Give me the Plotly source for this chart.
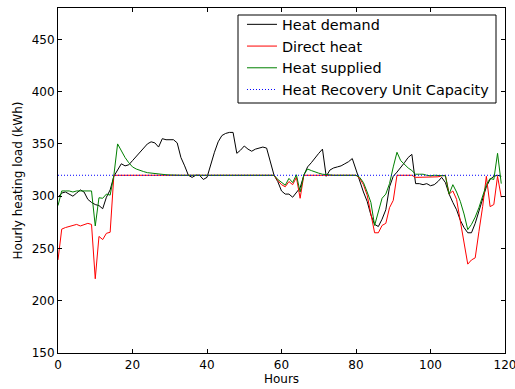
import plotly.graph_objects as go

hours = list(range(120))

heat_demand = [
    299, 303, 304, 302, 300, 303, 306, 304, 297, 294,
    292, 291, 288, 299, 306, 319, 325, 331, 329, 330,
    334, 338, 342, 347, 350, 352, 351, 347, 355, 354,
    354, 354, 351, 337, 329, 320, 318, 320, 320, 316,
    318, 331, 342, 352, 358, 360, 361, 361, 341, 344,
    348, 345, 343, 345, 346, 347, 346, 332, 320, 314,
    305, 302, 302, 299, 303, 308, 320, 328, 332, 337,
    341, 345, 319, 325, 327, 328, 329, 331, 333, 336,
    325, 314, 304, 295, 282, 273, 271, 278, 287, 309,
    319, 323, 327, 332, 337, 340, 312, 312, 311, 312,
    310, 311, 314, 318, 313, 302, 294, 287, 277, 270,
    265, 265, 274, 286, 298, 309, 316, 319, 320, 319,
]

direct_heat = [
    239, 268.5, 270, 271, 272, 273, 271.5, 273, 274, 273,
    221, 261.5, 258.5, 264.5, 265.5, 320, 320, 320, 320, 320,
    320, 320, 320, 320, 320, 320, 320, 320, 320, 320,
    320, 320, 320, 320, 320, 320, 320, 320, 320, 320,
    320, 320, 320, 320, 320, 320, 320, 320, 320, 320,
    320, 320, 320, 320, 320, 320, 320, 320, 320, 315,
    311, 309, 314, 311, 318, 298, 320, 320, 320, 320,
    320, 320, 320, 320, 320, 320, 320, 320, 320, 320,
    320, 317, 311, 301, 281, 265, 265, 272, 274, 289,
    296, 320, 320, 320, 320, 320, 318, 318, 318, 318,
    318, 318, 318.5, 319.5, 320, 302, 305, 297, 277, 255,
    235, 239, 241, 266, 290, 319, 290, 292, 319, 299,
]

heat_supplied = [
    291, 305, 305, 305, 304, 305, 305, 305, 305, 305,
    271.5, 298.5, 298, 302, 301, 320, 350, 343, 337, 332,
    328, 326, 324.5, 323.5, 322.5, 322, 321.5, 321, 320.7, 320.5,
    320.3, 320, 320, 320, 320, 320, 320, 320, 320, 320,
    320, 320, 320, 320, 320, 320, 320, 320, 320, 320,
    320, 320, 320, 320, 320, 320, 320, 320, 320, 316,
    313, 310.5, 317, 313, 320.5, 304, 320.5, 326, 324.5, 323,
    322, 321, 320.5, 320, 320, 320, 320, 320, 320, 320,
    320, 318, 313, 304, 294, 272, 286, 298, 302, 312,
    328, 342, 334, 330, 327, 324.5, 321, 321, 321, 320,
    319.5, 320, 320, 319.7, 319.5, 302, 311, 304, 295, 283,
    268, 273, 280, 289, 300, 311, 317, 316, 341, 312,
]

capacity_value = 320
capacity = [capacity_value] * len(hours)

x_ticks = [0, 20, 40, 60, 80, 100, 120]
y_ticks = [150, 200, 250, 300, 350, 400, 450]

FONT = "DejaVu Sans"

fig = go.Figure()
fig.add_trace(go.Scatter(x=hours, y=heat_demand, mode="lines", name="Heat demand",
                         line=dict(color="#000000", width=1)))
fig.add_trace(go.Scatter(x=hours, y=direct_heat, mode="lines", name="Direct heat",
                         line=dict(color="#ff0000", width=1)))
fig.add_trace(go.Scatter(x=hours, y=heat_supplied, mode="lines", name="Heat supplied",
                         line=dict(color="#008000", width=1)))
fig.add_trace(go.Scatter(x=hours, y=capacity, mode="lines", name="Heat Recovery Unit Capacity",
                         line=dict(color="#0000ff", width=1, dash="1px,2px")))

axis_common = dict(
    showgrid=False, zeroline=False, showline=True, linecolor="#000000", linewidth=1,
    mirror="allticks", ticks="inside", ticklen=4, tickwidth=1, tickcolor="#000000",
    tickfont=dict(family=FONT, size=12, color="#000000"),
    automargin=False, ticklabeloverflow="allow",
)

# legend frame (matplotlib-style box)
fig.add_shape(type="rect", xref="paper", yref="paper",
              x0=0.4027, x1=0.9799, y0=0.7246, y1=0.9797,
              line=dict(color="#000000", width=1), fillcolor="white", layer="above")

fig.update_layout(
    width=515, height=389,
    margin=dict(l=58, r=10, t=8, b=36),
    paper_bgcolor="white", plot_bgcolor="white",
    font=dict(family=FONT, size=12, color="#000000"),
    showlegend=True,
    legend=dict(
        x=0.4116, y=0.9986, xanchor="left", yanchor="top",
        bgcolor="rgba(0,0,0,0)", borderwidth=0,
        font=dict(family=FONT, size=14.4, color="#000000"),
        tracegroupgap=0,
    ),
    xaxis=dict(range=[0, 120.0001], tickvals=x_ticks, ticktext=[str(v) for v in x_ticks],
               ticklabelstandoff=1,
               title=dict(text="Hours", font=dict(family=FONT, size=12), standoff=0),
               **axis_common),
    yaxis=dict(range=[150, 480], tickvals=y_ticks, ticktext=[str(v) for v in y_ticks],
               title=dict(text="Hourly heating load (kWh)", font=dict(family=FONT, size=12), standoff=6),
               **axis_common),
)

fig.write_html("out.html")
